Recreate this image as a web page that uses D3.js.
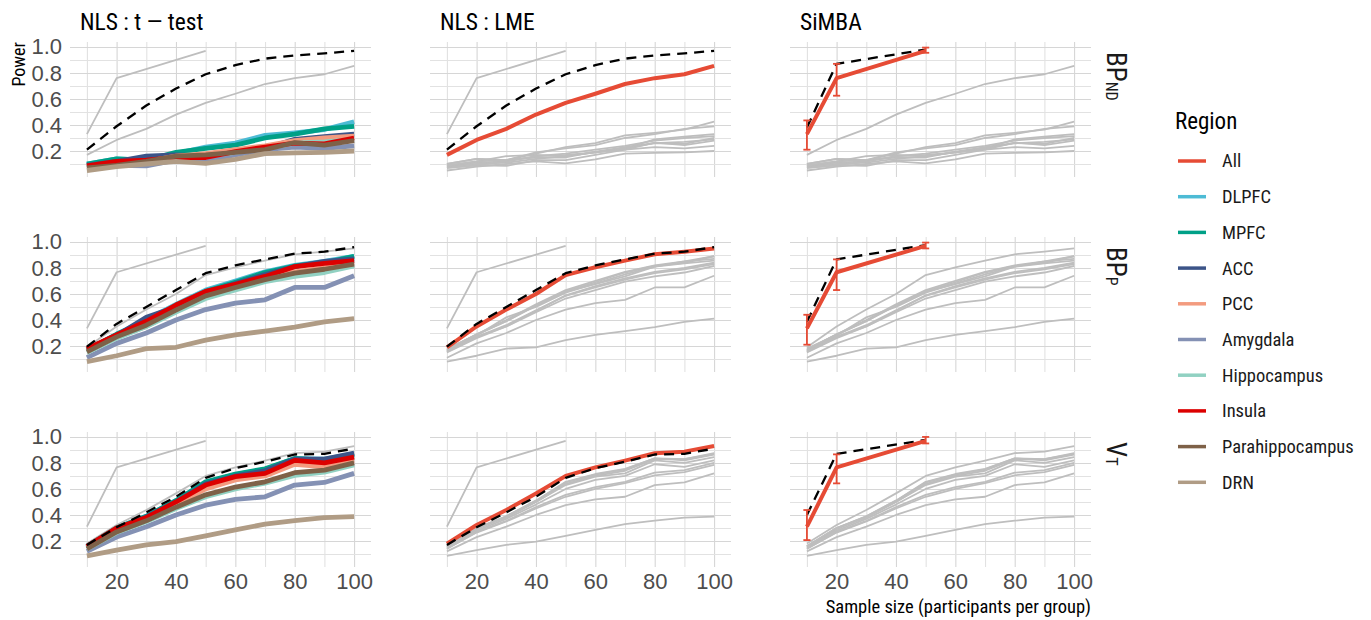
<!DOCTYPE html>
<html>
<head>
<meta charset="utf-8">
<script src="https://cdn.jsdelivr.net/npm/d3@7"></script>
<style>
  body { margin: 0; background: #fff; }
  svg { font-family: "Roboto Condensed", Roboto, "Liberation Sans Narrow", sans-serif; }
  .tick text { fill: #4d4d4d; }
</style>
</head>
<body>
<svg id="chart" width="1371" height="620"></svg>
<script>
// sample sizes (participants per group)
var sizes = [10, 20, 30, 40, 50, 60, 70, 80, 90, 100];
var simbaSizes = [10, 20, 50];

var methods = ["NLS : t \u2014 test", "NLS : LME", "SiMBA"];
var measures = [["BP", "ND"], ["BP", "P"], ["V", "T"]];

var regions = ["All", "DLPFC", "MPFC", "ACC", "PCC", "Amygdala", "Hippocampus", "Insula", "Parahippocampus", "DRN"];
var regionColors = ["#E64B35", "#4DBBD5", "#00A087", "#3C5488", "#F39B7F", "#8491B4", "#91D1C2", "#DC0000", "#7E6148", "#B09C85"];

// NLS t-test power per region (DLPFC ... DRN), one block per outcome
var regionBPND = [
  [0.10, 0.14, 0.13, 0.18, 0.23, 0.26, 0.32, 0.34, 0.365, 0.425],
  [0.10, 0.14, 0.13, 0.19, 0.22, 0.245, 0.30, 0.33, 0.37, 0.39],
  [0.09, 0.12, 0.16, 0.17, 0.16, 0.19, 0.22, 0.29, 0.31, 0.33],
  [0.08, 0.11, 0.12, 0.16, 0.18, 0.21, 0.24, 0.28, 0.30, 0.315],
  [0.07, 0.09, 0.085, 0.13, 0.13, 0.17, 0.21, 0.23, 0.22, 0.24],
  [0.08, 0.10, 0.11, 0.14, 0.16, 0.19, 0.22, 0.26, 0.27, 0.29],
  [0.085, 0.12, 0.13, 0.15, 0.15, 0.195, 0.23, 0.26, 0.255, 0.30],
  [0.07, 0.09, 0.12, 0.16, 0.17, 0.19, 0.21, 0.265, 0.245, 0.28],
  [0.05, 0.08, 0.10, 0.12, 0.105, 0.135, 0.18, 0.185, 0.19, 0.20]
];
var regionBPP = [
  [0.17, 0.29, 0.40, 0.52, 0.63, 0.70, 0.77, 0.82, 0.85, 0.89],
  [0.17, 0.29, 0.39, 0.51, 0.62, 0.69, 0.765, 0.815, 0.84, 0.89],
  [0.16, 0.28, 0.42, 0.50, 0.61, 0.68, 0.75, 0.81, 0.85, 0.87],
  [0.16, 0.27, 0.35, 0.47, 0.59, 0.66, 0.72, 0.77, 0.80, 0.84],
  [0.11, 0.22, 0.30, 0.40, 0.48, 0.53, 0.555, 0.65, 0.65, 0.74],
  [0.15, 0.26, 0.35, 0.46, 0.565, 0.63, 0.695, 0.735, 0.765, 0.815],
  [0.18, 0.285, 0.39, 0.515, 0.62, 0.675, 0.735, 0.81, 0.835, 0.856],
  [0.155, 0.27, 0.36, 0.475, 0.585, 0.65, 0.71, 0.76, 0.79, 0.83],
  [0.08, 0.125, 0.18, 0.19, 0.245, 0.285, 0.315, 0.345, 0.385, 0.41]
];
var regionVT = [
  [0.16, 0.30, 0.39, 0.51, 0.65, 0.71, 0.75, 0.835, 0.83, 0.87],
  [0.16, 0.30, 0.39, 0.51, 0.655, 0.715, 0.755, 0.835, 0.82, 0.865],
  [0.15, 0.29, 0.385, 0.50, 0.64, 0.70, 0.74, 0.83, 0.83, 0.875],
  [0.15, 0.28, 0.37, 0.48, 0.60, 0.67, 0.70, 0.79, 0.77, 0.82],
  [0.12, 0.23, 0.31, 0.40, 0.475, 0.52, 0.54, 0.63, 0.65, 0.72],
  [0.14, 0.265, 0.35, 0.45, 0.54, 0.60, 0.645, 0.705, 0.73, 0.785],
  [0.16, 0.30, 0.38, 0.50, 0.63, 0.695, 0.72, 0.82, 0.80, 0.845],
  [0.14, 0.27, 0.355, 0.46, 0.555, 0.615, 0.655, 0.725, 0.745, 0.80],
  [0.085, 0.13, 0.17, 0.195, 0.24, 0.285, 0.33, 0.356, 0.38, 0.387]
];

// NLS LME, all regions together
var lmeBPND = [0.17, 0.285, 0.37, 0.48, 0.57, 0.64, 0.715, 0.76, 0.79, 0.855];
var lmeBPP = [0.19, 0.35, 0.48, 0.60, 0.745, 0.805, 0.856, 0.905, 0.925, 0.95];
var lmeVT = [0.18, 0.323, 0.438, 0.566, 0.70, 0.766, 0.818, 0.875, 0.887, 0.93];

// reference (dashed) power for the NLS panels
var trueBPND = [0.21, 0.39, 0.55, 0.68, 0.79, 0.86, 0.91, 0.935, 0.95, 0.97];
var trueBPP = [0.195, 0.37, 0.50, 0.63, 0.76, 0.82, 0.866, 0.91, 0.925, 0.96];
var trueVT = [0.17, 0.305, 0.42, 0.54, 0.685, 0.76, 0.81, 0.865, 0.87, 0.91];

// SiMBA power with interval, and its dashed reference
var simbaBPND = [0.33, 0.76, 0.97], simbaBPNDlo = [0.21, 0.625, 0.955], simbaBPNDhi = [0.435, 0.87, 0.995];
var simbaBPP = [0.335, 0.767, 0.97], simbaBPPlo = [0.21, 0.63, 0.95], simbaBPPhi = [0.44, 0.866, 0.995];
var simbaVT = [0.31, 0.766, 0.97], simbaVTlo = [0.207, 0.643, 0.95], simbaVThi = [0.438, 0.866, 1.0];
var simbaTrueBPND = [0.38, 0.87, 0.98];
var simbaTrueBPP = [0.387, 0.866, 0.976];
var simbaTrueVT = [0.40, 0.87, 0.977];

var rows = [
  {regions: regionBPND, lme: lmeBPND, truth: trueBPND, simba: simbaBPND, lo: simbaBPNDlo, hi: simbaBPNDhi, simbaTruth: simbaTrueBPND},
  {regions: regionBPP, lme: lmeBPP, truth: trueBPP, simba: simbaBPP, lo: simbaBPPlo, hi: simbaBPPhi, simbaTruth: simbaTrueBPP},
  {regions: regionVT, lme: lmeVT, truth: trueVT, simba: simbaVT, lo: simbaVTlo, hi: simbaVThi, simbaTruth: simbaTrueVT}
];

var svg = d3.select("#chart");
var pw = 301, ph = 135,
    left0 = 70, top0 = 42,
    colStep = 360, rowStep = 195;

var x = d3.scaleLinear().domain([4.3, 105.7]).range([0, pw]);
var y = d3.scaleLinear().domain([0, 1.038]).range([ph, 0]);
var grey = "#bebebe";

var line = d3.line().x(d => x(d[0])).y(d => y(d[1]));
var pairs = (xs, ys) => xs.map((v, i) => [v, ys[i]]);

function drawLine(g, xs, ys, color, width, dash) {
  g.append("path")
    .attr("d", line(pairs(xs, ys)))
    .attr("fill", "none")
    .attr("stroke", color)
    .attr("stroke-width", width)
    .attr("stroke-linejoin", "round")
    .attr("stroke-dasharray", dash || null);
}

rows.forEach(function(row, r) {
  methods.forEach(function(method, c) {
    var g = svg.append("g")
      .attr("transform", "translate(" + (left0 + c * colStep) + "," + (top0 + r * rowStep) + ")");

    // grid
    var gx = g.append("g")
      .call(d3.axisBottom(x).tickValues(sizes).tickSize(ph).tickFormat(""));
    gx.selectAll(".tick line").attr("y1", 0).attr("y2", ph)
      .attr("stroke", (d) => d % 20 == 0 ? "#d6d6d6" : "#e2e2e2").attr("stroke-width", 1.1);
    var gy = g.append("g")
      .call(d3.axisLeft(y).tickValues(d3.range(1, 11).map(d => d / 10)).tickSize(-pw).tickFormat(""));
    gy.selectAll(".tick line").attr("stroke", (d) => Math.round(d * 10) % 2 == 0 ? "#d6d6d6" : "#e2e2e2").attr("stroke-width", 1.1);
    gx.select(".domain").remove();
    gy.select(".domain").remove();

    if (c == 0) {
      drawLine(g, simbaSizes, row.simba, grey, 1.8);
      drawLine(g, sizes, row.lme, grey, 1.8);
      row.regions.forEach(function(vals, i) {
        drawLine(g, sizes, vals, regionColors[i + 1], 4.8);
      });
      drawLine(g, sizes, row.truth, "#000", 2.3, "10,7");
    } else if (c == 1) {
      drawLine(g, simbaSizes, row.simba, grey, 1.8);
      row.regions.forEach(function(vals) { drawLine(g, sizes, vals, grey, 1.8); });
      drawLine(g, sizes, row.lme, regionColors[0], 4);
      drawLine(g, sizes, row.truth, "#000", 2.3, "10,7");
    } else {
      drawLine(g, sizes, row.lme, grey, 1.8);
      row.regions.forEach(function(vals) { drawLine(g, sizes, vals, grey, 1.8); });
      drawLine(g, simbaSizes, row.simbaTruth, "#000", 2.3, "10,7");
      drawLine(g, simbaSizes, row.simba, regionColors[0], 4);
      var eb = g.append("g").attr("stroke", regionColors[0]).attr("stroke-width", 1.8);
      simbaSizes.forEach(function(s, i) {
        eb.append("line").attr("x1", x(s)).attr("x2", x(s)).attr("y1", y(row.lo[i])).attr("y2", y(row.hi[i]));
        [row.lo[i], row.hi[i]].forEach(function(v) {
          eb.append("line").attr("x1", x(s - 1.2)).attr("x2", x(s + 1.2)).attr("y1", y(v)).attr("y2", y(v));
        });
      });
    }

    // y tick labels on first column
    if (c == 0) {
      var ya = g.append("g").attr("transform", "translate(-4,0)")
        .call(d3.axisLeft(y).tickValues([0.2, 0.4, 0.6, 0.8, 1.0]).tickSize(0).tickPadding(4).tickFormat(d3.format(".1f")));
      ya.select(".domain").remove();
      ya.selectAll("text").attr("font-size", 22).attr("font-family", null).style("fill", "#4d4d4d");
    }
    // x tick labels on last row
    if (r == 2) {
      var xa = g.append("g").attr("transform", "translate(0," + ph + ")")
        .call(d3.axisBottom(x).tickValues([20, 40, 60, 80, 100]).tickSize(0).tickPadding(6));
      xa.select(".domain").remove();
      xa.selectAll("text").attr("font-size", 22).attr("font-family", null).style("fill", "#4d4d4d");
    }
    // column titles
    if (r == 0) {
      svg.append("text")
        .attr("x", left0 + c * colStep + 10)
        .attr("y", 30)
        .attr("font-size", 23.5)
        .attr("fill", "#000")
        .text(method);
    }
  });

  // row strip label, reads top to bottom
  var lab = svg.append("text")
    .attr("transform", "translate(1107," + (top0 + r * rowStep + 10) + ") rotate(90)")
    .attr("font-size", 27)
    .attr("fill", "#1a1a1a");
  lab.append("tspan").text(measures[r][0]);
  lab.append("tspan").attr("font-size", 16).attr("dy", 1).text(measures[r][1]);
});

// axis titles
svg.append("text")
  .attr("transform", "translate(25," + top0 + ") rotate(-90)")
  .attr("text-anchor", "end")
  .attr("font-size", 18)
  .attr("fill", "#000")
  .text("Power");

svg.append("text")
  .attr("x", left0 + 2 * colStep + pw)
  .attr("y", 613)
  .attr("text-anchor", "end")
  .attr("font-size", 18.5)
  .attr("fill", "#000")
  .text("Sample size (participants per group)");

// legend
var legend = svg.append("g").attr("transform", "translate(1175,0)");
legend.append("text").attr("x", 0).attr("y", 129).attr("font-size", 23).attr("fill", "#000").text("Region");
regions.forEach(function(name, i) {
  var yy = 161 + i * 35.7;
  legend.append("line").attr("x1", 3).attr("x2", 31).attr("y1", yy).attr("y2", yy)
    .attr("stroke", regionColors[i]).attr("stroke-width", 3.5);
  legend.append("text").attr("x", 47).attr("y", yy).attr("dy", "0.35em")
    .attr("font-size", 18.5).attr("fill", "#1a1a1a").text(name);
});
</script>
</body>
</html>
